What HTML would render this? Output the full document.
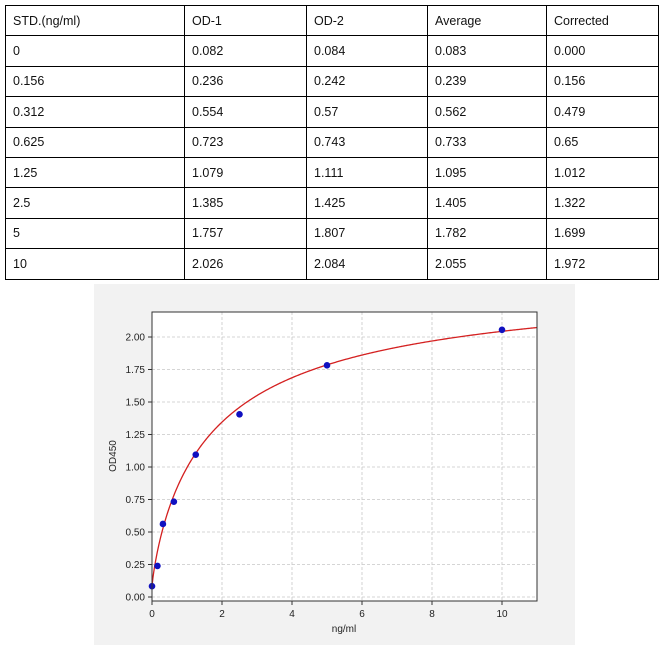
<!DOCTYPE html>
<html><head><meta charset="utf-8"><style>
body{margin:0;width:671px;height:646px;background:#fff;position:relative;overflow:hidden;font-family:"Liberation Sans",sans-serif}
table{position:absolute;left:5px;top:5px;border-collapse:collapse;width:653px;table-layout:fixed}
td{border:1px solid #000;height:29.4px;padding:0 0 0 7px;font-size:12.5px;color:#111}
#c{position:absolute;left:94px;top:284px}
</style></head><body>
<table>
<colgroup><col style="width:179px"><col style="width:122px"><col style="width:121px"><col style="width:119px"><col style="width:112px"></colgroup>
<tr><td>STD.(ng/ml)</td><td>OD-1</td><td>OD-2</td><td>Average</td><td>Corrected</td></tr>
<tr><td>0</td><td>0.082</td><td>0.084</td><td>0.083</td><td>0.000</td></tr>
<tr><td>0.156</td><td>0.236</td><td>0.242</td><td>0.239</td><td>0.156</td></tr>
<tr><td>0.312</td><td>0.554</td><td>0.57</td><td>0.562</td><td>0.479</td></tr>
<tr><td>0.625</td><td>0.723</td><td>0.743</td><td>0.733</td><td>0.65</td></tr>
<tr><td>1.25</td><td>1.079</td><td>1.111</td><td>1.095</td><td>1.012</td></tr>
<tr><td>2.5</td><td>1.385</td><td>1.425</td><td>1.405</td><td>1.322</td></tr>
<tr><td>5</td><td>1.757</td><td>1.807</td><td>1.782</td><td>1.699</td></tr>
<tr><td>10</td><td>2.026</td><td>2.084</td><td>2.055</td><td>1.972</td></tr>
</table>
<svg id="c" width="481" height="361" viewBox="94 284 481 361" font-family="Liberation Sans, sans-serif" font-size="10" fill="#222">
<rect x="94" y="284" width="481" height="361" fill="#f2f2f2"/>
<rect x="152" y="312" width="385" height="289" fill="#fff"/>
<g id="grid" stroke="#c8c8c8" stroke-dasharray="3,2" stroke-width="0.8"></g>
<g id="ticks"></g>
<path id="curve" fill="none" stroke="#d42020" stroke-width="1.3"/>
<g id="pts" fill="#1010c0"></g>
<rect x="152" y="312" width="385" height="289" fill="none" stroke="#333" stroke-width="1"/>
<text x="344" y="632" text-anchor="middle">ng/ml</text>
<text transform="translate(116,456) rotate(-90)" text-anchor="middle">OD450</text>
</svg>
<script>
var X=function(x){return 152+35*x},Y=function(y){return 597-130*y};
var g=document.getElementById('grid'),t=document.getElementById('ticks'),s='',u='';
for(var i=0;i<=10;i+=2){var x=X(i);s+='<line x1="'+x+'" y1="312" x2="'+x+'" y2="601"/>';u+='<line x1="'+x+'" y1="601" x2="'+x+'" y2="605" stroke="#333"/><text x="'+x+'" y="617" text-anchor="middle">'+i+'</text>';}
for(var j=0;j<=8;j++){var v=j*0.25,y=Y(v);s+='<line x1="152" y1="'+y+'" x2="537" y2="'+y+'"/>';u+='<line x1="148" y1="'+y+'" x2="152" y2="'+y+'" stroke="#333"/><text x="145" y="'+(y+3.5)+'" text-anchor="end">'+v.toFixed(2)+'</text>';}
g.innerHTML=s;t.innerHTML=u;
var d='';for(var k=0;k<=440;k++){var x=k*0.025,f=x==0?0:Math.pow(x/1.8,0.85)/(1+Math.pow(x/1.8,0.85)),y=0.083+2.417*f;d+=(k?'L':'M')+X(x).toFixed(2)+','+Y(y).toFixed(2);}
document.getElementById('curve').setAttribute('d',d);
var P=[[0,0.083],[0.156,0.239],[0.312,0.562],[0.625,0.733],[1.25,1.095],[2.5,1.405],[5,1.782],[10,2.055]],q='';
P.forEach(function(p){q+='<circle cx="'+X(p[0])+'" cy="'+Y(p[1])+'" r="3.3"/>'});
document.getElementById('pts').innerHTML=q;
</script>
</body></html>
